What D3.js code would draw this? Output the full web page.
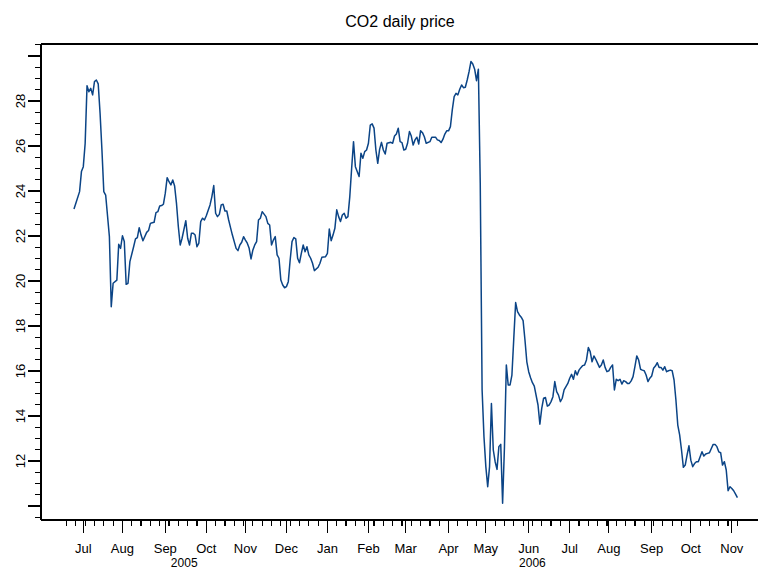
<!DOCTYPE html>
<html><head><meta charset="utf-8">
<script src="https://cdn.jsdelivr.net/npm/d3@7"></script>
<style>body{margin:0;background:#fff}svg{display:block}text{font-family:Arial,"Liberation Sans",Helvetica,sans-serif;fill:#000}</style>
</head><body><div id="chart"></div>
<script>
const chartTitle = "CO2 daily price";
const dates = [
"2005-06-24","2005-06-27","2005-06-29","2005-06-30","2005-07-01","2005-07-04","2005-07-05","2005-07-06","2005-07-07","2005-07-08",
"2005-07-11","2005-07-12","2005-07-13","2005-07-14","2005-07-15","2005-07-18","2005-07-19","2005-07-21","2005-07-22","2005-07-25",
"2005-07-27","2005-07-28","2005-07-29","2005-08-01","2005-08-02","2005-08-03","2005-08-04","2005-08-05","2005-08-09","2005-08-10",
"2005-08-11","2005-08-12","2005-08-15","2005-08-16","2005-08-18","2005-08-19","2005-08-22","2005-08-23","2005-08-24","2005-08-25",
"2005-08-26","2005-08-29","2005-08-30","2005-08-31","2005-09-01","2005-09-02","2005-09-05","2005-09-06","2005-09-07","2005-09-08",
"2005-09-09","2005-09-12","2005-09-13","2005-09-14","2005-09-16","2005-09-19","2005-09-20","2005-09-21","2005-09-22","2005-09-23",
"2005-09-26","2005-09-27","2005-09-28","2005-09-29","2005-09-30","2005-10-03","2005-10-05","2005-10-06","2005-10-07","2005-10-10",
"2005-10-11","2005-10-12","2005-10-13","2005-10-14","2005-10-17","2005-10-18","2005-10-19","2005-10-20","2005-10-21","2005-10-25",
"2005-10-26","2005-10-27","2005-10-28","2005-10-31","2005-11-01","2005-11-02","2005-11-03","2005-11-04","2005-11-07","2005-11-08",
"2005-11-09","2005-11-10","2005-11-11","2005-11-14","2005-11-16","2005-11-17","2005-11-18","2005-11-21","2005-11-22","2005-11-23",
"2005-11-24","2005-11-25","2005-11-28","2005-11-29","2005-11-30","2005-12-01","2005-12-02","2005-12-05","2005-12-06","2005-12-07",
"2005-12-08","2005-12-09","2005-12-12","2005-12-13","2005-12-14","2005-12-15","2005-12-16","2005-12-19","2005-12-20","2005-12-21",
"2005-12-22","2005-12-26","2005-12-27","2005-12-28","2005-12-30","2006-01-02","2006-01-03","2006-01-04","2006-01-05","2006-01-06",
"2006-01-09","2006-01-10","2006-01-11","2006-01-12","2006-01-13","2006-01-16","2006-01-17","2006-01-18","2006-01-19","2006-01-20",
"2006-01-23","2006-01-25","2006-01-26","2006-01-27","2006-01-30","2006-01-31","2006-02-01","2006-02-02","2006-02-03","2006-02-06",
"2006-02-07","2006-02-08","2006-02-09","2006-02-10","2006-02-13","2006-02-14","2006-02-15","2006-02-17","2006-02-20","2006-02-21",
"2006-02-22","2006-02-23","2006-02-24","2006-02-27","2006-02-28","2006-03-01","2006-03-02","2006-03-03","2006-03-06","2006-03-07",
"2006-03-08","2006-03-09","2006-03-10","2006-03-13","2006-03-14","2006-03-15","2006-03-16","2006-03-20","2006-03-21","2006-03-22",
"2006-03-23","2006-03-24","2006-03-27","2006-03-28","2006-03-29","2006-03-30","2006-03-31","2006-04-03","2006-04-04","2006-04-05",
"2006-04-06","2006-04-07","2006-04-10","2006-04-11","2006-04-12","2006-04-13","2006-04-14","2006-04-17","2006-04-18","2006-04-19",
"2006-04-20","2006-04-21","2006-04-24","2006-04-25","2006-04-26","2006-04-27","2006-04-28","2006-05-01","2006-05-02","2006-05-03",
"2006-05-04","2006-05-05","2006-05-08","2006-05-09","2006-05-10","2006-05-11","2006-05-12","2006-05-15","2006-05-16","2006-05-17",
"2006-05-18","2006-05-19","2006-05-22","2006-05-23","2006-05-24","2006-05-25","2006-05-26","2006-05-29","2006-05-30","2006-05-31",
"2006-06-01","2006-06-02","2006-06-05","2006-06-06","2006-06-08","2006-06-09","2006-06-12","2006-06-13","2006-06-14","2006-06-15",
"2006-06-16","2006-06-19","2006-06-20","2006-06-21","2006-06-22","2006-06-23","2006-06-26","2006-06-27","2006-06-28","2006-06-30",
"2006-07-03","2006-07-04","2006-07-05","2006-07-06","2006-07-07","2006-07-10","2006-07-11","2006-07-12","2006-07-13","2006-07-14",
"2006-07-17","2006-07-18","2006-07-19","2006-07-20","2006-07-21","2006-07-24","2006-07-25","2006-07-26","2006-07-27","2006-07-28",
"2006-07-31","2006-08-01","2006-08-02","2006-08-03","2006-08-04","2006-08-07","2006-08-08","2006-08-09","2006-08-10","2006-08-11",
"2006-08-14","2006-08-15","2006-08-16","2006-08-17","2006-08-18","2006-08-21","2006-08-22","2006-08-23","2006-08-24","2006-08-25",
"2006-08-28","2006-08-29","2006-08-30","2006-08-31","2006-09-01","2006-09-04","2006-09-05","2006-09-06","2006-09-07","2006-09-08",
"2006-09-11","2006-09-12","2006-09-13","2006-09-14","2006-09-15","2006-09-18","2006-09-19","2006-09-20","2006-09-21","2006-09-22",
"2006-09-25","2006-09-26","2006-09-27","2006-09-28","2006-09-29","2006-10-02","2006-10-03","2006-10-04","2006-10-05","2006-10-06",
"2006-10-09","2006-10-10","2006-10-11","2006-10-12","2006-10-13","2006-10-16","2006-10-17","2006-10-18","2006-10-19","2006-10-20",
"2006-10-23","2006-10-24","2006-10-25","2006-10-26","2006-10-27","2006-10-30","2006-10-31","2006-11-01","2006-11-02","2006-11-03",
"2006-11-06"
];
const prices = [
23.2,23.45,23.97,24.86,25.08,26.12,28.68,28.41,28.56,28.27,
28.86,28.93,28.76,27.45,25.82,23.97,23.82,21.97,18.86,19.9,
20.04,21.63,21.45,22.01,21.75,19.85,19.9,20.86,21.52,21.87,
21.93,22.37,22.04,21.79,22.16,22.24,22.56,22.59,22.61,23.04,
23.08,23.33,23.35,23.41,23.9,24.59,24.41,24.27,24.49,24.22,
23.45,22.41,21.6,21.9,22.68,21.9,21.6,22.12,22.12,22.04,
21.52,21.68,22.64,22.79,22.71,22.9,23.38,23.75,24.24,23.01,
22.86,22.96,23.38,23.41,23.11,23.11,22.71,22.37,22.04,21.45,
21.35,21.6,21.72,21.97,21.82,21.68,21.45,20.98,21.38,21.6,
21.75,22.71,22.79,23.08,22.86,22.56,22.49,21.6,21.82,21.97,
21.16,21.01,20.04,19.82,19.7,19.75,19.97,20.93,21.75,21.93,
21.87,21.01,20.81,21.23,21.6,21.3,21.52,21.16,21.01,20.79,
20.46,20.61,20.79,21.05,21.08,21.23,22.31,21.79,22.04,22.34,
23.16,22.86,22.64,22.93,23.01,22.79,22.86,23.75,25.01,26.19,
25.08,24.64,25.68,25.45,25.75,25.82,26.12,26.93,26.98,26.79,
25.82,25.23,25.85,26.16,25.82,25.64,26.12,26.16,26.12,26.44,
26.53,26.79,26.19,26.15,25.82,25.85,26.12,26.64,26.44,26.04,
26.27,26.39,26.09,26.68,26.59,26.41,26.12,26.19,26.39,26.39,
26.39,26.27,26.24,26.15,26.3,26.53,26.67,26.67,26.86,27.6,
28.19,28.34,28.27,28.52,28.71,28.59,28.61,28.93,29.3,29.75,
29.64,29.41,28.9,29.41,24.34,15.16,13.08,11.75,10.86,11.75,
14.56,12.49,11.97,11.63,12.64,12.74,10.12,12.64,16.27,15.38,
15.38,15.82,17.45,19.04,18.64,18.49,18.39,18.24,17.38,16.41,
15.97,15.7,15.48,15.33,14.49,13.64,14.34,14.79,14.82,14.44,
14.49,14.64,14.86,15.53,15.08,14.93,14.64,14.79,15.16,15.45,
15.68,15.85,15.63,16.01,15.82,16.04,16.15,16.24,16.27,16.49,
17.04,16.86,16.41,16.67,16.52,16.34,16.16,16.27,16.49,16.16,
15.97,16.01,16.16,16.27,15.16,15.63,15.57,15.63,15.42,15.57,
15.53,15.45,15.45,15.56,15.75,16.19,16.67,16.49,16.08,16.04,
16.01,15.82,15.53,15.68,15.78,16.12,16.22,16.37,16.16,16.16,
16.04,16.19,15.97,16.01,16.04,16.01,15.6,14.71,13.6,13.16,
12.49,11.72,11.82,12.27,12.68,12.04,11.75,11.89,11.97,11.97,
12.19,12.41,12.22,12.31,12.34,12.37,12.56,12.74,12.74,12.64,
12.41,12.37,11.82,11.97,11.6,10.68,10.86,10.78,10.68,10.53,
10.37
];
const yLabelTicks = [12,14,16,18,20,22,24,26,28];
const yMajorTicks = [10,12,14,16,18,20,22,24,26,28,30];
const yMinorStep = 0.5;
const monthNames = ["Jan","Feb","Mar","Apr","May","Jun","Jul","Aug","Sep","Oct","Nov","Dec"];
const yearLabels = ["2005","2006"];

const W = 758, H = 570;
const mLeft = 41, mTop = 44, mBottom = 520, mRightEnd = 770.4;
const parse = d3.timeParse("%Y-%m-%d");
const origin = parse("2005-07-01");
const isWeekday = d => d.getDay() !== 0 && d.getDay() !== 6;
function bday(d) {
  if (d >= origin) return d3.timeDay.range(origin, d).filter(isWeekday).length;
  return -d3.timeDay.range(d, origin).filter(isWeekday).length;
}
const data = dates.map((s, i) => ({ date: parse(s), value: prices[i] }));
data.forEach(p => p.idx = bday(p.date));
const first = data[0], last = data[data.length - 1];

const x = d3.scaleLinear().domain([first.idx - 17.7, last.idx + 17.7]).range([mLeft, mRightEnd]);
const y = d3.scaleLinear().domain([9.38, 30.53]).range([mBottom, mTop]);

const svg = d3.select("#chart").append("svg").attr("width", W).attr("height", H);

svg.append("text").attr("x", 400).attr("y", 27).attr("text-anchor", "middle")
  .style("font-size", "16px").text(chartTitle);

const g = svg.append("g").attr("stroke", "#000").attr("stroke-width", 1.2).attr("shape-rendering", "crispEdges");
g.append("line").attr("x1", mLeft).attr("x2", W).attr("y1", mTop).attr("y2", mTop);
g.append("line").attr("x1", mLeft).attr("x2", mLeft).attr("y1", mTop).attr("y2", mBottom);
g.append("line").attr("x1", mLeft).attr("x2", W).attr("y1", mBottom).attr("y2", mBottom);

const yMinor = d3.range(9.5, 30.51, yMinorStep).filter(v => !yMajorTicks.includes(v));
g.selectAll(".ymin").data(yMinor).join("line")
  .attr("x1", mLeft - 6.5).attr("x2", mLeft).attr("y1", d => y(d)).attr("y2", d => y(d));
g.selectAll(".ymaj").data(yMajorTicks).join("line")
  .attr("x1", mLeft - 13).attr("x2", mLeft).attr("y1", d => y(d)).attr("y2", d => y(d));
svg.selectAll(".ylab").data(yLabelTicks).join("text")
  .attr("transform", d => `translate(25,${y(d)}) rotate(-90)`)
  .attr("text-anchor", "middle").style("font-size", "13px").text(d => d);

const mondays = d3.timeMonday.range(d3.timeMonday.floor(first.date), d3.timeDay.offset(last.date, 1));
g.selectAll(".xmin").data(mondays).join("line")
  .attr("x1", d => x(bday(d))).attr("x2", d => x(bday(d)))
  .attr("y1", mBottom).attr("y2", mBottom + 6);
const monthStarts = d3.timeMonth.range(d3.timeMonth.ceil(first.date), last.date).map(m => {
  let d = m; while (!isWeekday(d)) d = d3.timeDay.offset(d, 1); return d;
});
g.selectAll(".xmaj").data(monthStarts).join("line")
  .attr("x1", d => x(bday(d))).attr("x2", d => x(bday(d)))
  .attr("y1", mBottom).attr("y2", mBottom + 13);
svg.selectAll(".xlab").data(monthStarts).join("text")
  .attr("x", d => x(bday(d))).attr("y", 553).attr("text-anchor", "middle")
  .style("font-size", "13px").text(d => monthNames[d.getMonth()]);

const janIdx = bday(parse("2006-01-02"));
const yearPos = [(mLeft + x(janIdx)) / 2, (x(janIdx) + x(last.idx)) / 2];
svg.selectAll(".yrlab").data(yearLabels).join("text")
  .attr("x", (d, i) => yearPos[i]).attr("y", 567).attr("text-anchor", "middle")
  .style("font-size", "12px").text(d => d);

const line = d3.line().x(d => x(d.idx)).y(d => y(d.value));
svg.append("path").datum(data).attr("d", line)
  .attr("fill", "none").attr("stroke", "#0b4486").attr("stroke-width", 1.5).attr("stroke-linejoin", "round");
</script>
</body></html>
